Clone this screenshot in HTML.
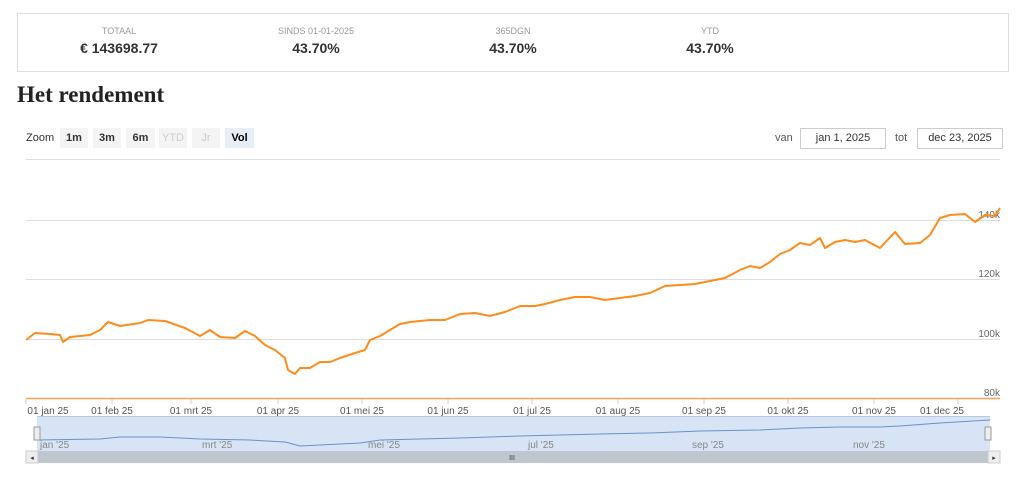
<!DOCTYPE html><html><head><style>
body{margin:0;width:1024px;height:487px;background:#fff;font-family:"Liberation Sans","DejaVu Sans",sans-serif;position:relative;overflow:hidden}
.box{position:absolute;left:17px;top:13px;width:990px;height:57px;border:1px solid #ddd}
.st{position:absolute;top:12px;text-align:center;width:160px}
.st .l{font-size:9px;color:#999}.st .v{font-size:14px;font-weight:bold;color:#333;margin-top:4px}
h1{position:absolute;left:17px;top:82px;margin:0;font-family:"Liberation Serif",serif;font-size:23px;color:#222}
.z{position:absolute;top:129px;font-size:11px;color:#333}
.b{position:absolute;top:128px;height:20px;line-height:20px;font-size:11px;background:#f4f4f4;text-align:center;color:#333;font-weight:bold}
.in{position:absolute;top:128px;height:19px;line-height:19px;border:1px solid #ccc;font-size:11px;text-align:center;color:#333}
</style></head><body>
<div class="box">
<div class="st" style="left:21px"><div class="l">TOTAAL</div><div class="v">€ 143698.77</div></div>
<div class="st" style="left:218px"><div class="l">SINDS 01-01-2025</div><div class="v">43.70%</div></div>
<div class="st" style="left:415px"><div class="l">365DGN</div><div class="v">43.70%</div></div>
<div class="st" style="left:612px"><div class="l">YTD</div><div class="v">43.70%</div></div>
</div>
<h1>Het rendement</h1>
<div class="z" style="left:26px;top:132px">Zoom</div>
<div class="b" style="left:60px;width:28px">1m</div>
<div class="b" style="left:93px;width:28px">3m</div>
<div class="b" style="left:126px;width:29px">6m</div>
<div class="b" style="left:159px;width:28px;color:#ccc;font-weight:normal">YTD</div>
<div class="b" style="left:192px;width:28px;color:#ccc;font-weight:normal">Jr</div>
<div class="b" style="left:225px;width:29px;background:#e6eef8;color:#000">Vol</div>
<div class="z" style="left:775px;top:132px;color:#555">van</div>
<div class="in" style="left:800px;width:84px">jan 1, 2025</div>
<div class="z" style="left:895px;top:132px;color:#555">tot</div>
<div class="in" style="left:917px;width:84px">dec 23, 2025</div>
<svg width="1024" height="487" style="position:absolute;left:0;top:0" font-family="Liberation Sans, DejaVu Sans, sans-serif">
<g stroke="#ddd" stroke-width="1"><line x1="26" x2="1000" y1="159.5" y2="159.5"/><line x1="26" x2="1000" y1="220.5" y2="220.5"/><line x1="26" x2="1000" y1="279.5" y2="279.5"/><line x1="26" x2="1000" y1="339.5" y2="339.5"/></g>
<line x1="26" x2="1000" y1="398.5" y2="398.5" stroke="#f7a35c" stroke-width="1.5"/>
<g font-size="10" fill="#666" text-anchor="end"><text x="1000" y="218">140k</text><text x="1000" y="277">120k</text><text x="1000" y="337">100k</text><text x="1000" y="396">80k</text></g>
<g stroke="#ccc"><line x1="26" x2="26" y1="399" y2="404"/><line x1="112" x2="112" y1="399" y2="404"/><line x1="191" x2="191" y1="399" y2="404"/><line x1="278" x2="278" y1="399" y2="404"/><line x1="362" x2="362" y1="399" y2="404"/><line x1="448" x2="448" y1="399" y2="404"/><line x1="532" x2="532" y1="399" y2="404"/><line x1="618" x2="618" y1="399" y2="404"/><line x1="704" x2="704" y1="399" y2="404"/><line x1="788" x2="788" y1="399" y2="404"/><line x1="874" x2="874" y1="399" y2="404"/><line x1="958" x2="958" y1="399" y2="404"/></g>
<g font-size="10" fill="#555" text-anchor="middle"><text x="48" y="414">01 jan 25</text><text x="112" y="414">01 feb 25</text><text x="191" y="414">01 mrt 25</text><text x="278" y="414">01 apr 25</text><text x="362" y="414">01 mei 25</text><text x="448" y="414">01 jun 25</text><text x="532" y="414">01 jul 25</text><text x="618" y="414">01 aug 25</text><text x="704" y="414">01 sep 25</text><text x="788" y="414">01 okt 25</text><text x="874" y="414">01 nov 25</text><text x="942" y="414">01 dec 25</text></g>
<polyline fill="none" stroke="#ff8c1a" stroke-width="2" stroke-linejoin="round" points="26,340 35,333 50,334 60,335 63,342 70,337 90,335 100,330 108,322 120,326 140,323 148,320 165,321 185,328 200,336 210,330 220,337 235,338 245,331 255,336 265,345 275,350 285,358 288,370 295,374 300,368 310,368 320,362 330,362 340,358 355,353 365,350 370,340 380,336 390,330 400,324 410,322 430,320 445,320 460,314 475,313 490,316 505,312 520,306 535,306 545,304 560,300 575,297 590,297 605,300 620,298 635,296 650,293 665,286 680,285 695,284 705,282 715,280 725,278 740,270 750,266 760,268 770,262 780,254 790,250 800,243 810,245 820,238 825,248 835,242 845,240 855,242 865,240 880,248 895,232 905,244 920,243 930,235 940,218 950,215 965,214 975,222 985,215 995,216 1000,208"/>
<rect x="37" y="416" width="953" height="35" fill="#d6e4f5"/>
<line x1="37" x2="990" y1="416.5" y2="416.5" stroke="#b7c9e0"/>
<g font-size="10" fill="#888"><text x="40" y="448">jan '25</text><text x="202" y="448">mrt '25</text><text x="368" y="448">mei '25</text><text x="528" y="448">jul '25</text><text x="692" y="448">sep '25</text><text x="853" y="448">nov '25</text></g>
<polyline fill="none" stroke="#6d90c8" stroke-width="1" points="37,440 100,439 120,437 160,437 200,439 250,440 285,442 300,446 320,445 360,443 380,440 420,439 460,438 520,436 560,435 600,434 650,433 700,431 760,430 800,428 840,427 880,427 900,426 940,423 990,420"/>
<rect x="34" y="427" width="6" height="13" fill="#eee" stroke="#999"/>
<rect x="985" y="427" width="6" height="13" fill="#eee" stroke="#999"/>
<rect x="26" y="451" width="974" height="12" fill="#bfc6ce"/>
<rect x="26" y="451" width="12" height="12" fill="#eee" stroke="#ccc"/>
<rect x="988" y="451" width="12" height="12" fill="#eee" stroke="#ccc"/>
<text x="32" y="460" font-size="7" fill="#333" text-anchor="middle">◂</text>
<text x="994" y="460" font-size="7" fill="#333" text-anchor="middle">▸</text>
<text x="512" y="460" font-size="7" fill="#333" text-anchor="middle">III</text>
</svg>
</body></html>
